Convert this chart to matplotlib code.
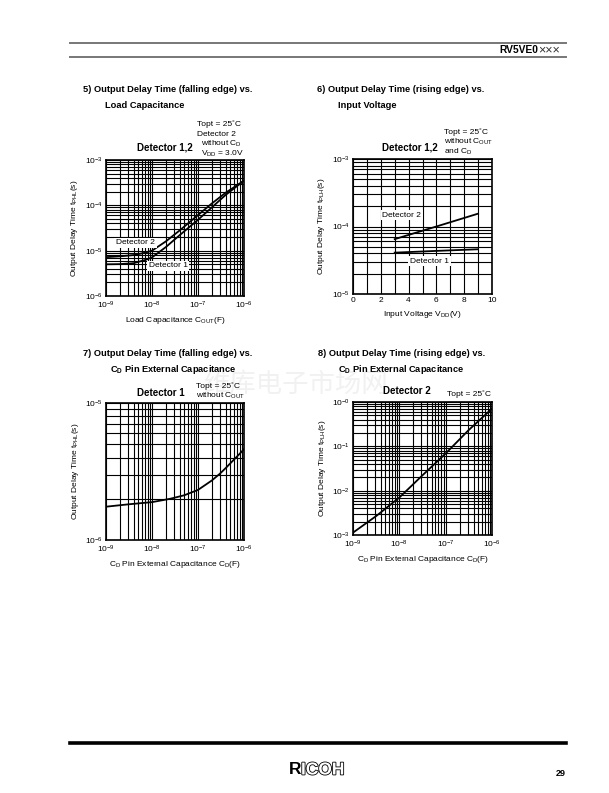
"""
Datasheet page 29 (RV5VE0xxx): output delay time characteristics, panels 5-8.
Output: out.png
"""
import numpy as np
import matplotlib
matplotlib.use('Agg')
import matplotlib.pyplot as plt
import matplotlib.patheffects as pe
from matplotlib.ticker import LogLocator, NullFormatter, MultipleLocator

plt.rcParams['font.family'] = ['Liberation Sans', 'DejaVu Sans']
plt.rcParams['mathtext.fontset'] = 'custom'
plt.rcParams['mathtext.rm'] = 'Liberation Sans'
plt.rcParams['mathtext.it'] = 'Liberation Sans:italic'
plt.rcParams['mathtext.bf'] = 'Liberation Sans:bold'

W, H = 609, 793

# 5) falling edge vs. load capacitance
cout_f = [1e-9, 2e-9, 4e-9, 7e-9, 1e-8, 2e-8, 4e-8, 1e-7, 2e-7, 4e-7, 1e-6]
tphl_det1 = [5.0e-6, 5.05e-6, 5.3e-6, 6.2e-6, 7.1e-6, 1.2e-5, 2.2e-5, 4.8e-5, 9.0e-5, 1.7e-4, 3.5e-4]
tphl_det2 = [7.2e-6, 7.5e-6, 8.0e-6, 9.0e-6, 1.0e-5, 1.6e-5, 2.8e-5, 6.1e-5, 1.1e-4, 1.9e-4, 3.5e-4]

# 6) rising edge vs. input voltage
vdd_v = [3, 6, 9]
tplh_det2_v = [6.5e-5, 1.0e-4, 1.55e-4]
tplh_det1_v = [4.1e-5, 4.35e-5, 4.6e-5]

# 7) falling edge vs. CD pin capacitance (detector 1)
cd_7 = [1e-9, 3e-9, 1e-8, 2.5e-8, 5e-8, 1e-7, 2e-7, 3e-7, 4e-7, 6e-7, 8e-7, 1e-6]
tphl_cd = [1.75e-6, 1.82e-6, 1.89e-6, 2.0e-6, 2.12e-6, 2.32e-6, 2.72e-6, 3.05e-6,
           3.35e-6, 3.85e-6, 4.25e-6, 4.6e-6]

# 8) rising edge vs. CD pin capacitance (detector 2)
cd_8 = [1e-9, 3.2e-9, 1e-8, 3.2e-8, 1e-7, 3.1e-7, 1e-6]
tplh_cd = [1.13e-3, 2.7e-3, 7.0e-3, 2.25e-2, 6.9e-2, 0.23, 0.71]

fig = plt.figure(figsize=(W / 100, H / 100), dpi=100)
fig.patch.set_facecolor('white')


def px_axes(x0, x1, y0, y1):
    return fig.add_axes([x0 / W, 1 - y1 / H, (x1 - x0) / W, (y1 - y0) / H])


def ftext(x, y, s, **kw):
    kw.setdefault('fontsize', 6)
    fig.text(x / W, 1 - y / H, s, **kw)


def style(ax, logx=True, logy=True):
    if logx:
        ax.set_xscale('log')
        ax.xaxis.set_major_locator(LogLocator(base=10, numticks=10))
        ax.xaxis.set_minor_locator(LogLocator(base=10, subs=np.arange(2, 10), numticks=20))
        ax.xaxis.set_minor_formatter(NullFormatter())
    if logy:
        ax.set_yscale('log')
        ax.yaxis.set_major_locator(LogLocator(base=10, numticks=10))
        ax.yaxis.set_minor_locator(LogLocator(base=10, subs=np.arange(2, 10), numticks=20))
        ax.yaxis.set_minor_formatter(NullFormatter())
    ax.grid(True, which='both', color='black', linewidth=0.8)
    ax.set_axisbelow(True)
    ax.tick_params(which='both', length=0, labelsize=6, pad=2.5)
    for s in ax.spines.values():
        s.set_linewidth(1.2)


box = dict(facecolor='white', edgecolor='none', pad=1.2)

# watermark (very faint)
ftext(295, 384, '维库电子市场网', fontsize=19, color='#f1f1f1', ha='center', va='center',
      family=['Noto Sans CJK SC', 'DejaVu Sans'], zorder=-5)

# ---- header / footer
fig.add_artist(plt.Line2D([70 / W, 566 / W], [1 - 42.7 / H] * 2, color='#777777', lw=1.4))
fig.add_artist(plt.Line2D([70 / W, 566 / W], [1 - 56.7 / H] * 2, color='#777777', lw=1.4))
ftext(538, 50, 'RV5VE0', fontsize=7.4, fontweight='bold', ha='right', va='center')
ftext(538, 50, '×××', fontsize=9, ha='left', va='center', color='#333333')
fig.add_artist(plt.Line2D([70 / W, 566 / W], [1 - 742.7 / H] * 2, color='black', lw=2.6))
ftext(301, 770, 'R', fontsize=12.5, fontweight='bold', ha='right', va='center')
ftext(301, 770, 'ICOH', fontsize=12.5, fontweight='bold', ha='left', va='center', color='white',
      path_effects=[pe.withStroke(linewidth=1.2, foreground='black')])
ftext(566, 773, '29', fontsize=6.5, fontweight='bold', ha='right', va='center')

# ---- panel 5
ftext(83, 90, '5) Output Delay Time (falling edge) vs.', fontsize=6.7, fontweight='bold', va='center')
ftext(105, 105, 'Load Capacitance', fontsize=6.7, fontweight='bold', va='center')
ftext(197, 124, 'Topt = 25˚C', va='center')
ftext(197, 134, 'Detector 2', va='center')
ftext(201, 144, 'without C$_{\\mathrm{D}}$', va='center')
ftext(201, 154, 'V$_{\\mathrm{DD}}$ = 3.0V', va='center')
ftext(137, 148, 'Detector 1,2', fontsize=7, fontweight='bold', va='center')
ax5 = px_axes(106, 244, 160, 296)
style(ax5)
ax5.plot(cout_f, tphl_det1, color='black', lw=1.3)
ax5.plot(cout_f, tphl_det2, color='black', lw=1.3)
ax5.set_xlim(1e-9, 1e-6)
ax5.set_ylim(1e-6, 1e-3)
ax5.text(1.65e-9, 1.5e-5, 'Detector 2', fontsize=6, va='center', bbox=box)
ax5.text(8.5e-9, 4.6e-6, 'Detector 1', fontsize=6, va='center', bbox=box)
ax5.set_xlabel('Load Capacitance C$_{\\mathrm{OUT}}$(F)', fontsize=6, labelpad=3)
ax5.set_ylabel('Output Delay Time t$_{\\mathrm{PHL}}$(s)', fontsize=6, labelpad=3)

# ---- panel 6
ftext(317, 90, '6) Output Delay Time (rising edge) vs.', fontsize=6.7, fontweight='bold', va='center')
ftext(338, 105, 'Input Voltage', fontsize=6.7, fontweight='bold', va='center')
ftext(444, 132, 'Topt = 25˚C', va='center')
ftext(444, 142, 'without C$_{\\mathrm{OUT}}$', va='center')
ftext(444, 152, 'and C$_{\\mathrm{D}}$', va='center')
ftext(382, 148, 'Detector 1,2', fontsize=7, fontweight='bold', va='center')
ax6 = px_axes(353, 492, 159, 294)
style(ax6, logx=False)
ax6.xaxis.set_major_locator(MultipleLocator(2))
ax6.xaxis.set_minor_locator(MultipleLocator(1))
ax6.plot(vdd_v, tplh_det2_v, color='black', lw=1.3)
ax6.plot(vdd_v, tplh_det1_v, color='black', lw=1.3)
ax6.set_xlim(0, 10)
ax6.set_ylim(1e-5, 1e-3)
ax6.text(2.1, 1.48e-4, 'Detector 2', fontsize=6, va='center', bbox=box)
ax6.text(4.1, 3.08e-5, 'Detector 1', fontsize=6, va='center', bbox=box)
ax6.set_xlabel('Input Voltage V$_{\\mathrm{DD}}$(V)', fontsize=6, labelpad=3)
ax6.set_ylabel('Output Delay Time t$_{\\mathrm{PLH}}$(s)', fontsize=6, labelpad=3)

# ---- panel 7
ftext(83, 354, '7) Output Delay Time (falling edge) vs.', fontsize=6.7, fontweight='bold', va='center')
ftext(110, 369, 'C$_{\\mathbf{D}}$ Pin External Capacitance', fontsize=6.7, fontweight='bold', va='center')
ftext(196, 386, 'Topt = 25˚C', va='center')
ftext(196, 396, 'without C$_{\\mathrm{OUT}}$', va='center')
ftext(137, 393, 'Detector 1', fontsize=7, fontweight='bold', va='center')
ax7 = px_axes(106, 244, 403, 540)
style(ax7)
ax7.plot(cd_7, tphl_cd, color='black', lw=1.3)
ax7.set_xlim(1e-9, 1e-6)
ax7.set_ylim(1e-6, 1e-5)
ax7.set_xlabel('C$_{\\mathrm{D}}$ Pin External Capacitance C$_{\\mathrm{D}}$(F)', fontsize=6, labelpad=3)
ax7.set_ylabel('Output Delay Time t$_{\\mathrm{PHL}}$(s)', fontsize=6, labelpad=3)

# ---- panel 8
ftext(318, 354, '8) Output Delay Time (rising edge) vs.', fontsize=6.7, fontweight='bold', va='center')
ftext(338, 369, 'C$_{\\mathbf{D}}$ Pin External Capacitance', fontsize=6.7, fontweight='bold', va='center')
ftext(447, 394, 'Topt = 25˚C', va='center')
ftext(383, 391, 'Detector 2', fontsize=7, fontweight='bold', va='center')
ax8 = px_axes(353, 492, 402, 535)
style(ax8)
ax8.plot(cd_8, tplh_cd, color='black', lw=1.3)
ax8.set_xlim(1e-9, 1e-6)
ax8.set_ylim(1e-3, 1)
ax8.set_yticks([1e-3, 1e-2, 1e-1, 1])
ax8.set_yticklabels(['$\\mathdefault{10^{-3}}$', '$\\mathdefault{10^{-2}}$',
                     '$\\mathdefault{10^{-1}}$', '$\\mathdefault{10^{-0}}$'])
ax8.set_xlabel('C$_{\\mathrm{D}}$ Pin External Capacitance C$_{\\mathrm{D}}$(F)', fontsize=6, labelpad=3)
ax8.set_ylabel('Output Delay Time t$_{\\mathrm{PLH}}$(s)', fontsize=6, labelpad=3)

fig.savefig('out.png', dpi=100, facecolor='white')
plt.close(fig)
